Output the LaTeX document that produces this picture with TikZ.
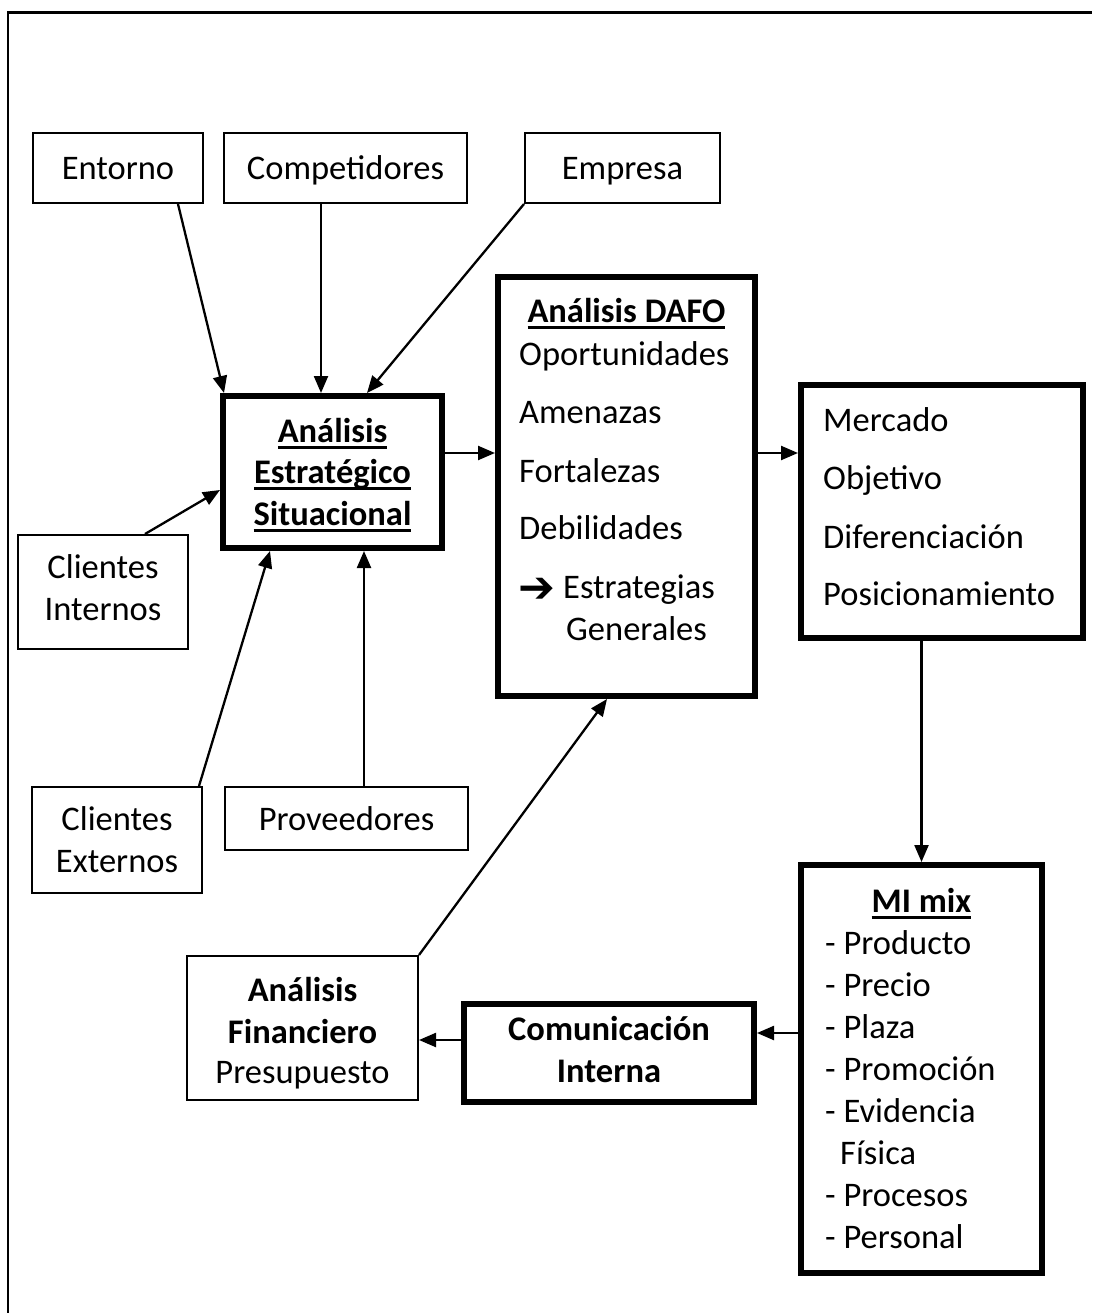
\documentclass[tikz,border=0pt]{standalone}
\usepackage{fontspec}
\setmainfont{Carlito}
\newfontfamily\dejavu{DejaVu Sans}
\usetikzlibrary{arrows.meta,calc}
\newsavebox\ulbox
\newcommand\myul[1]{\sbox\ulbox{#1}\rlap{\rule[-6.5pt]{\wd\ulbox}{3pt}}\usebox\ulbox}
\begin{document}
\begin{tikzpicture}[x=1pt,y=-1pt,
  box/.style={draw, line width=2pt, inner sep=0pt, rectangle},
  tbox/.style={draw, line width=6pt, inner sep=0pt, rectangle},
  txt/.style={font=\fontsize{34.5}{42}\selectfont, inner sep=0pt, anchor=base},
  ltxt/.style={txt, anchor=base west},
  arr/.style={line width=2.3pt, -{Triangle[length=17pt,width=14pt]}}]
\useasboundingbox (0,0) rectangle (1092,1313);
\draw[line width=2.5pt] (8,1313) -- (8,12.5) -- (1092,12.5);

% boxes
\node[box, minimum width=170pt, minimum height=70pt] (ent) at (118,168) {};
\node[box, minimum width=243pt, minimum height=70pt] (comp) at (345.5,168) {};
\node[box, minimum width=195pt, minimum height=70pt] (emp) at (622.5,168) {};
\node[tbox, minimum width=219pt, minimum height=152pt] (aes) at (332.5,472) {};
\node[box, minimum width=170pt, minimum height=114pt] (ci) at (103,592) {};
\node[box, minimum width=170pt, minimum height=106pt] (ce) at (117,840) {};
\node[box, minimum width=243pt, minimum height=63pt] (prov) at (346.5,818.5) {};
\node[tbox, minimum width=257pt, minimum height=419pt] (dafo) at (626.5,486.5) {};
\node[tbox, minimum width=282pt, minimum height=253pt] (merc) at (942,511.5) {};
\node[tbox, minimum width=241pt, minimum height=408pt] (mix) at (921.5,1069) {};
\node[tbox, minimum width=290pt, minimum height=98pt] (com) at (609,1053) {};
\node[box, minimum width=231pt, minimum height=144pt] (fin) at (302.5,1028) {};

% texts
\node[txt] (entT) at (118,180) {Entorno};
\node[txt] (compT) at (345.5,180) {Competidores};
\node[txt] (empT) at (622.5,180) {Empresa};
\node[txt] (aesT1) at (332.5,442) {\bfseries\myul{Análisis}};
\node[txt] (aesT2) at (332.5,483.5) {\bfseries\myul{Estratégico}};
\node[txt] (aesT3) at (332.5,525) {\bfseries\myul{Situacional}};
\node[txt] (ciT1) at (103,578) {Clientes};
\node[txt] (ciT2) at (103,620) {Internos};
\node[txt] (ceT1) at (117,830) {Clientes};
\node[txt] (ceT2) at (117,872) {Externos};
\node[txt] (provT) at (346.5,830) {Proveedores};
\node[txt] (dafoT) at (626.5,323) {\bfseries\myul{Análisis DAFO}};
\node[ltxt] (dafo1) at (519,365) {Oportunidades};
\node[ltxt] (dafo2) at (519,423) {Amenazas};
\node[ltxt] (dafo3) at (519,482) {Fortalezas};
\node[ltxt] (dafo4) at (519,539) {Debilidades};
\node[inner sep=0pt, anchor=west, font=\dejavu\bfseries\fontsize{44}{46}\selectfont] (dafoA) at (518,590) {➔};
\node[ltxt] (dafo5) at (563,598) {Estrategias};
\node[ltxt] (dafo6) at (566,640) {Generales};
\node[ltxt] (merc1) at (823,431) {Mercado};
\node[ltxt] (merc2) at (823,489) {Objetivo};
\node[ltxt] (merc3) at (823,548) {Diferenciación};
\node[ltxt] (merc4) at (823,605) {Posicionamiento};
\node[txt] (mixT) at (921.5,912) {\bfseries\myul{MI mix}};
\node[ltxt] (mix1) at (825,954) {- Producto};
\node[ltxt] (mix2) at (825,996) {- Precio};
\node[ltxt] (mix3) at (825,1038) {- Plaza};
\node[ltxt] (mix4) at (825,1080) {- Promoción};
\node[ltxt] (mix5) at (825,1122) {- Evidencia};
\node[ltxt] (mix6) at (840,1164) {Física};
\node[ltxt] (mix7) at (825,1206) {- Procesos};
\node[ltxt] (mix8) at (825,1248) {- Personal};
\node[txt] (comT1) at (609,1040) {\bfseries Comunicación};
\node[txt] (comT2) at (609,1082) {\bfseries Interna};
\node[txt] (finT1) at (302.5,1001) {\bfseries Análisis};
\node[txt] (finT2) at (302.5,1043) {\bfseries Financiero};
\node[txt] (finT3) at (302.5,1083) {Presupuesto};

% connector end points
\coordinate (c1) at ($(aes.east)+(0,-19)$);
\coordinate (c2) at ($(dafo.east)+(0,-33.5)$);
\coordinate (c3) at ($(mix.west)+(0,-36)$);
\coordinate (c4) at ($(com.west)+(0,-13)$);

% connectors
\draw[arr] ($(ent.south east)+(-26,0)$) -- ($(aes.north west)+(4,0)$);
\draw[arr] ($(comp.south)+(-24.5,0)$) -- ($(aes.north)+(-11.5,0)$);
\draw[arr] (emp.south west) -- ($(aes.north)+(34.5,0)$);
\draw[arr] ($(ci.north)+(42,0)$) -- ($(aes.west)+(0,18)$);
\draw[arr] ($(ce.north east)+(-4,0)$) -- ($(aes.south)+(-62.5,0)$);
\draw[arr] ($(prov.north)+(17.5,0)$) -- ($(aes.south)+(31.5,0)$);
\draw[arr] (c1) -- (c1 -| dafo.west);
\draw[arr] (c2) -- (c2 -| merc.west);
\draw[arr] (merc.south -| mix.north) -- (mix.north);
\draw[arr] (c3) -- (c3 -| com.east);
\draw[arr] (c4) -- (c4 -| fin.east);
\draw[arr] (fin.north east) -- ($(dafo.south)+(-19.5,0)$);
\end{tikzpicture}
\end{document}
